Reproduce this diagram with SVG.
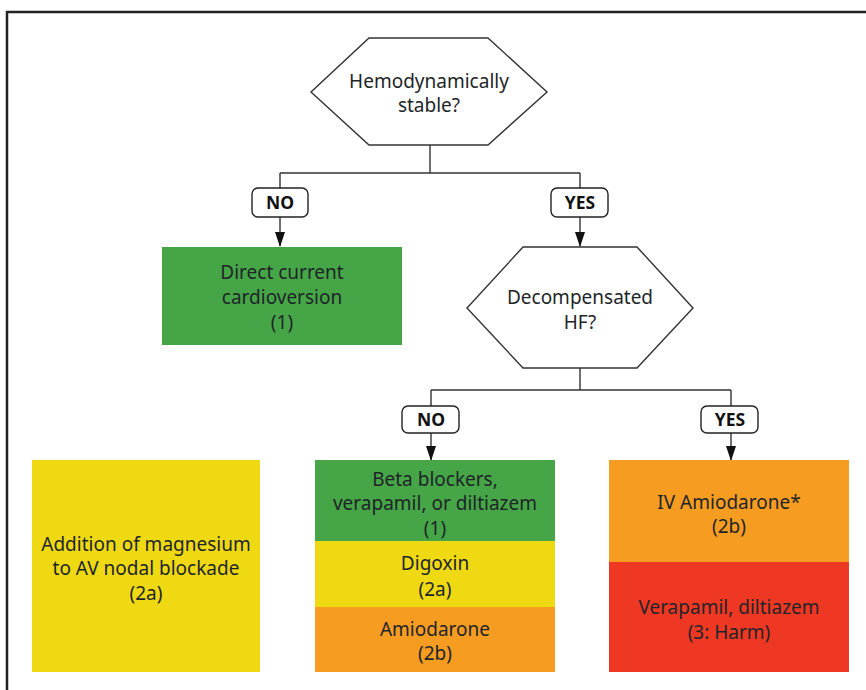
<svg xmlns="http://www.w3.org/2000/svg" width="866" height="690" viewBox="0 0 866 690">
<defs>
<style>
.t{font-family:"Noto Sans","DejaVu Sans",sans-serif;font-size:19px;fill:#1e2528;text-anchor:middle}
.lb{font-family:"Noto Sans","DejaVu Sans",sans-serif;font-size:17.5px;font-weight:bold;fill:#111;text-anchor:middle}
.hex{fill:#fff;stroke:#333;stroke-width:1.4}
.tag{fill:#fff;stroke:#222;stroke-width:1.4}
.ln{fill:none;stroke:#333;stroke-width:1.4}
.g{fill:#46a546}.y{fill:#efd912}.o{fill:#f59c21}.r{fill:#ef3824}
</style>
<marker id="ah" markerUnits="userSpaceOnUse" markerWidth="15" markerHeight="11" refX="14" refY="5" orient="auto" viewBox="0 0 15 10">
<path d="M0,0 L15,5 L0,10 Z" fill="#111"/>
</marker>
</defs>
<rect width="866" height="690" fill="#fff"/>
<path d="M7,700 V12 H870" fill="none" stroke="#222" stroke-width="2.5"/>

<g id="connectors">
<path class="ln" d="M430,145 V173 M280,173 H580 M280,173 V188 M580,173 V188"/>
<path class="ln" d="M280,217 V246" marker-end="url(#ah)"/>
<path class="ln" d="M580,217 V246" marker-end="url(#ah)"/>
<path class="ln" d="M580,368 V390 M431,390 H731 M431,390 V406 M731,390 V406"/>
<path class="ln" d="M431,433 V460" marker-end="url(#ah)"/>
<path class="ln" d="M731,433 V460" marker-end="url(#ah)"/>
</g>

<g id="q1">
<polygon class="hex" points="369,38 488,38 547,92 488,145 369,145 311,92"/>
<text class="t" x="429" y="88">Hemodynamically</text>
<text class="t" x="429" y="112">stable?</text>
</g>

<g id="no1">
<rect class="tag" x="252" y="188" width="56" height="29" rx="6"/>
<text class="lb" x="280" y="209">NO</text>
</g>
<g id="yes1">
<rect class="tag" x="551" y="188" width="57" height="29" rx="6"/>
<text class="lb" x="580" y="209">YES</text>
</g>

<g id="dc">
<rect class="g" x="162" y="247" width="240" height="98"/>
<text class="t" x="282" y="279">Direct current</text>
<text class="t" x="282" y="304">cardioversion</text>
<text class="t" x="282" y="329">(1)</text>
</g>

<g id="q2">
<polygon class="hex" points="523,247 637,247 693,308 637,368 523,368 467,308"/>
<text class="t" x="580" y="304">Decompensated</text>
<text class="t" x="580" y="329">HF?</text>
</g>

<g id="no2">
<rect class="tag" x="402" y="406" width="57" height="27" rx="6"/>
<text class="lb" x="431" y="426">NO</text>
</g>
<g id="yes2">
<rect class="tag" x="701" y="406" width="57" height="27" rx="6"/>
<text class="lb" x="730" y="426">YES</text>
</g>

<g id="mg">
<rect class="y" x="32" y="460" width="228" height="212"/>
<text class="t" x="146" y="551">Addition of magnesium</text>
<text class="t" x="146" y="575">to AV nodal blockade</text>
<text class="t" x="146" y="600">(2a)</text>
</g>

<g id="nohf">
<rect class="g" x="315" y="460" width="240" height="81"/>
<text class="t" x="435" y="486">Beta blockers,</text>
<text class="t" x="435" y="510">verapamil, or diltiazem</text>
<text class="t" x="435" y="535">(1)</text>
<rect class="y" x="315" y="541" width="240" height="66"/>
<text class="t" x="435" y="570">Digoxin</text>
<text class="t" x="435" y="596">(2a)</text>
<rect class="o" x="315" y="607" width="240" height="65"/>
<text class="t" x="435" y="636">Amiodarone</text>
<text class="t" x="435" y="660">(2b)</text>
</g>

<g id="yeshf">
<rect class="o" x="609" y="460" width="240" height="102"/>
<text class="t" x="729" y="509">IV Amiodarone*</text>
<text class="t" x="729" y="533">(2b)</text>
<rect class="r" x="609" y="562" width="240" height="110"/>
<text class="t" x="729" y="614">Verapamil, diltiazem</text>
<text class="t" x="729" y="639">(3: Harm)</text>
</g>
</svg>
